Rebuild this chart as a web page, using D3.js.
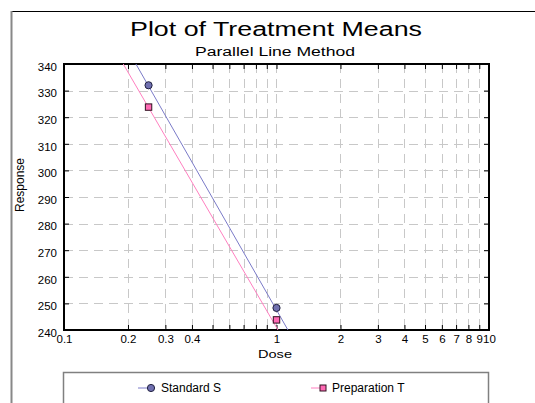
<!DOCTYPE html>
<html><head><meta charset="utf-8">
<script src="https://cdn.jsdelivr.net/npm/d3@7"></script>
<style>
html,body{margin:0;padding:0;background:#fff;}
svg{display:block;font-family:"Liberation Sans",Arial,sans-serif;}
</style></head>
<body><svg id="c" width="535" height="403"></svg>
<script>
// Data
const doses = [0.25, 1];
const standardS = [332, 248.3];
const preparationT = [323.8, 243.8];
// fitted parallel lines: [dose, response] where they leave the plot
const fitS = [[0.218, 340], [1.132, 240]];
const fitT = [[0.190, 340], [1.016, 240]];
const xTickVals = [0.1,0.2,0.3,0.4,0.5,0.6,0.7,0.8,0.9,1,2,3,4,5,6,7,8,9,10];
const xTickLabels = ["0.1","0.2","0.3","0.4","","","","","","1","2","3","4","5","6","7","8","9","10"];
const yTickVals = [240,250,260,270,280,290,300,310,320,330,340];
const seriesNames = ["Standard S","Preparation T"];

const svg = d3.select("#c");
const L=64, R=489, T=64, B=330;
const x = d3.scaleLog().domain([0.1,10]).range([L,R]);
const y = d3.scaleLinear().domain([240,340]).range([B,T]);

// outer frame
svg.append("line").attr("x1",11).attr("x2",535).attr("y1",11.5).attr("y2",11.5).attr("stroke","#000").attr("stroke-width",1.2);
svg.append("line").attr("x1",11.5).attr("x2",11.5).attr("y1",11).attr("y2",403).attr("stroke","#888").attr("stroke-width",2);

// titles
svg.append("text").attr("x",276).attr("y",36).attr("text-anchor","middle").attr("font-size",20)
  .attr("textLength",292).attr("lengthAdjust","spacingAndGlyphs").text("Plot of Treatment Means");
svg.append("text").attr("x",275).attr("y",56).attr("text-anchor","middle").attr("font-size",12)
  .attr("textLength",160).attr("lengthAdjust","spacingAndGlyphs").text("Parallel Line Method");

// grid
const g = svg.append("g");
g.selectAll(".vg").data(xTickVals.filter(v=>v>0.1&&v<10)).enter().append("line")
  .attr("x1",d=>Math.round(x(d))+0.5).attr("x2",d=>Math.round(x(d))+0.5).attr("y1",T).attr("y2",B)
  .attr("stroke","#c8c8c8").attr("stroke-dasharray","9,6");
g.selectAll(".hg").data(yTickVals.filter(v=>v>240&&v<340)).enter().append("line")
  .attr("x1",L).attr("x2",R).attr("y1",d=>Math.round(y(d))+0.5).attr("y2",d=>Math.round(y(d))+0.5)
  .attr("stroke","#c8c8c8").attr("stroke-dasharray","9,6");

// axes (inward ticks)
const xb = d3.axisBottom(x).tickValues(xTickVals).tickSize(-5).tickPadding(5).tickFormat((d,i)=>xTickLabels[i]);
const xt = d3.axisTop(x).tickValues(xTickVals).tickSize(-5).tickFormat("");
const yl = d3.axisLeft(y).tickValues(yTickVals).tickSize(-5).tickPadding(7).tickFormat(d3.format("d"));
const yr = d3.axisRight(y).tickValues(yTickVals).tickSize(-5).tickFormat("");
function style(sel){sel.select(".domain").remove();sel.selectAll("line").attr("stroke","#000");sel.selectAll("text").attr("font-size",11.5).attr("fill","#000").attr("font-family","Liberation Sans, Arial, sans-serif");}
svg.append("g").attr("transform",`translate(0,${B})`).call(xb).call(style);
svg.append("g").attr("transform",`translate(0,${T})`).call(xt).call(style);
svg.append("g").attr("transform",`translate(${L},0)`).call(yl).call(style).selectAll("text").attr("dy","0.55em");
svg.append("g").attr("transform",`translate(${R},0)`).call(yr).call(style);

// plot border
svg.append("rect").attr("x",L).attr("y",T).attr("width",R-L).attr("height",B-T).attr("fill","none").attr("stroke","#000").attr("stroke-width",2);

// axis titles
svg.append("text").attr("x",275).attr("y",358).attr("text-anchor","middle").attr("font-size",11)
  .attr("textLength",34).attr("lengthAdjust","spacingAndGlyphs").text("Dose");
svg.append("text").attr("transform","translate(24,185) rotate(-90)").attr("text-anchor","middle").attr("font-size",12)
  .text("Response");

// fitted lines
const line = d3.line().x(d=>x(d[0])).y(d=>y(d[1]));
svg.append("path").attr("d",line(fitS)).attr("fill","none").attr("stroke","#7b7bc8").attr("stroke-width",1);
svg.append("path").attr("d",line(fitT)).attr("fill","none").attr("stroke","#ff7fc0").attr("stroke-width",1);

// points
svg.selectAll(".ps").data(doses).enter().append("circle")
  .attr("cx",d=>x(d)).attr("cy",(d,i)=>y(standardS[i])).attr("r",3.6)
  .attr("fill","#7070b0").attr("stroke","#202040").attr("stroke-width",1);
svg.selectAll(".pt").data(doses).enter().append("rect")
  .attr("x",d=>x(d)-3.2).attr("y",(d,i)=>y(preparationT[i])-3.2).attr("width",6.4).attr("height",6.4)
  .attr("fill","#ff69b4").attr("stroke","#301020").attr("stroke-width",1);

// legend
svg.append("rect").attr("x",63.5).attr("y",372.5).attr("width",425).attr("height",40).attr("fill","#fff").attr("stroke","#808080").attr("stroke-width",1.5);
const ly = 388;
svg.append("line").attr("x1",138).attr("x2",150).attr("y1",ly).attr("y2",ly).attr("stroke","#7b7bc8");
svg.append("circle").attr("cx",151).attr("cy",ly).attr("r",3.6).attr("fill","#7070b0").attr("stroke","#202040");
svg.append("text").attr("x",161).attr("y",ly+4).attr("font-size",12).text(seriesNames[0]);
svg.append("line").attr("x1",311).attr("x2",321).attr("y1",ly).attr("y2",ly).attr("stroke","#ff7fc0");
svg.append("rect").attr("x",320).attr("y",ly-3).attr("width",6).attr("height",6).attr("fill","#ff69b4").attr("stroke","#301020");
svg.append("text").attr("x",332).attr("y",ly+4).attr("font-size",12).text(seriesNames[1]);
</script></body></html>
